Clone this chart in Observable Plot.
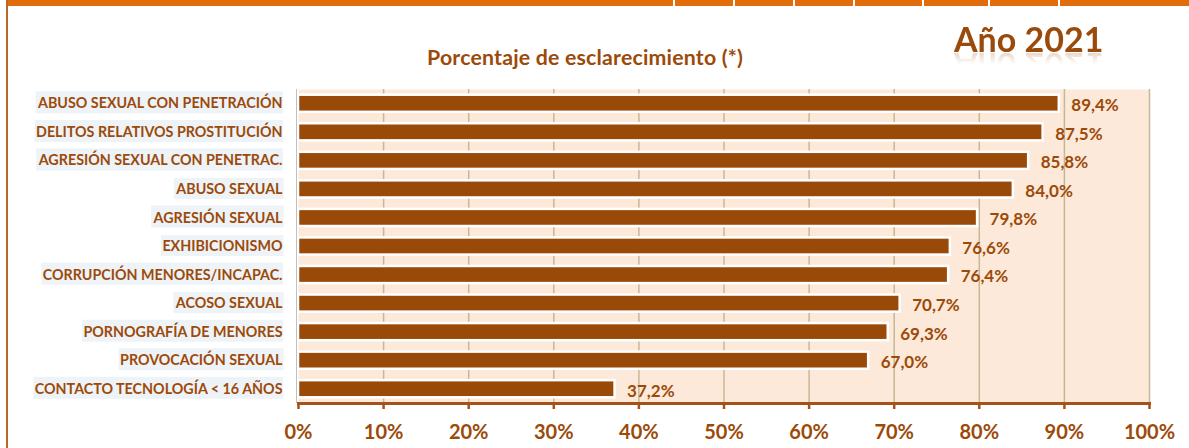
<!DOCTYPE html>
<html><head><meta charset="utf-8">
<script src="https://cdn.jsdelivr.net/npm/d3@7"></script>
<script src="https://cdn.jsdelivr.net/npm/@observablehq/plot@0.6"></script>
<style>
html,body{margin:0;padding:0;background:#fff;}
#wrap{position:relative;width:1189px;height:448px;overflow:hidden;font-family:Lato,"Open Sans",sans-serif;}
#topbar{position:absolute;left:8px;top:0;width:1181px;height:6px;background:#e36c0a;}
.sep{position:absolute;top:0;width:2px;height:6px;background:#fff;}
#leftline{position:absolute;left:6px;top:0;width:2px;height:448px;background:#b8672a;}
#title{position:absolute;left:427px;top:44px;white-space:nowrap;font-weight:700;font-size:21.3px;letter-spacing:0.2px;color:#9c4a0a;}
#year{position:absolute;left:954px;top:18px;font-weight:700;font-size:34px;color:#9a4a0a;
 -webkit-box-reflect: below -13px linear-gradient(transparent 55%, rgba(255,255,255,0.35));}
#chart{position:absolute;left:0;top:0;}
</style></head>
<body>
<div id="wrap">
  <div id="chart"></div>
  <div id="topbar"></div>
  <div id="leftline"></div>
  <div id="title">Porcentaje de esclarecimiento (*)</div>
  <div id="year">Año 2021</div>
</div>
<script>
const categories = [
  "ABUSO SEXUAL CON PENETRACIÓN",
  "DELITOS RELATIVOS PROSTITUCIÓN",
  "AGRESIÓN SEXUAL CON PENETRAC.",
  "ABUSO SEXUAL",
  "AGRESIÓN SEXUAL",
  "EXHIBICIONISMO",
  "CORRUPCIÓN MENORES/INCAPAC.",
  "ACOSO SEXUAL",
  "PORNOGRAFÍA DE MENORES",
  "PROVOCACIÓN SEXUAL",
  "CONTACTO TECNOLOGÍA < 16 AÑOS"
];
const values = [89.4, 87.5, 85.8, 84.0, 79.8, 76.6, 76.4, 70.7, 69.3, 67.0, 37.2];
const xTicks = [0, 10, 20, 30, 40, 50, 60, 70, 80, 90, 100];
const topSeparators = [673, 733, 793, 853, 922, 988, 1058];

const data = categories.map((c, i) => ({cat: c, value: values[i]}));
const brown = "#9c4a0a";

const topbar = document.getElementById("topbar");
topSeparators.forEach(x => {
  const s = document.createElement("div");
  s.className = "sep"; s.style.left = (x - 8) + "px";
  topbar.appendChild(s);
});

const chart = Plot.plot({
  width: 1189, height: 448,
  marginLeft: 298, marginRight: 40, marginTop: 89, marginBottom: 45,
  style: {fontFamily: "Lato, 'Open Sans', sans-serif", color: brown, background: "transparent", overflow: "visible"},
  x: {domain: [0, 100]},
  y: {domain: categories, paddingInner: 0.4, paddingOuter: 0.2, round: false},
  marks: [
    Plot.frame({fill: "#fde9d9", stroke: null}),
    Plot.gridX(xTicks.filter(d => d > 0), {stroke: "#c6b896", strokeOpacity: 1, strokeWidth: 1.5}),
    Plot.barX(data, {x: "value", y: "cat", fill: "#9a4a08", stroke: "#ffffff", strokeWidth: 2.5}),
    Plot.ruleX([0], {stroke: "#c0c0c0", strokeWidth: 1, dx: -2}),
    Plot.text(data, {x: "value", y: "cat", text: d => d.value.toFixed(1).replace(".", ",") + "%",
      textAnchor: "start", dx: 12, dy: 2, fontSize: 17, fontWeight: 700, fill: brown}),
    Plot.frame({anchor: "bottom", stroke: "#a4521a", strokeWidth: 3}),
    Plot.axisX({ticks: xTicks, tickFormat: d => d + "%", tickSize: 6, tickPadding: 15,
      fontSize: 20, fontWeight: 700, stroke: "#a4521a", strokeWidth: 2.5, fill: brown, label: null}),
    Plot.axisY({tickSize: 0, tickPadding: 16, fontSize: 14.3, fontWeight: 700, fill: brown, label: null})
  ]
});
document.getElementById("chart").appendChild(chart);

// light background boxes behind category labels
const svg = d3.select(chart);
svg.selectAll('g[aria-label="y-axis tick label"] text').each(function() {
  const b = this.getBBox();
  const t = this.getAttribute("transform");
  const r = document.createElementNS("http://www.w3.org/2000/svg", "rect");
  r.setAttribute("x", b.x - 1.5); r.setAttribute("y", b.y - 2);
  r.setAttribute("width", b.width + 2); r.setAttribute("height", b.height + 4);
  r.setAttribute("fill", "#eef3f8");
  if (t) r.setAttribute("transform", t);
  this.parentNode.insertBefore(r, this);
});
</script>
</body></html>
